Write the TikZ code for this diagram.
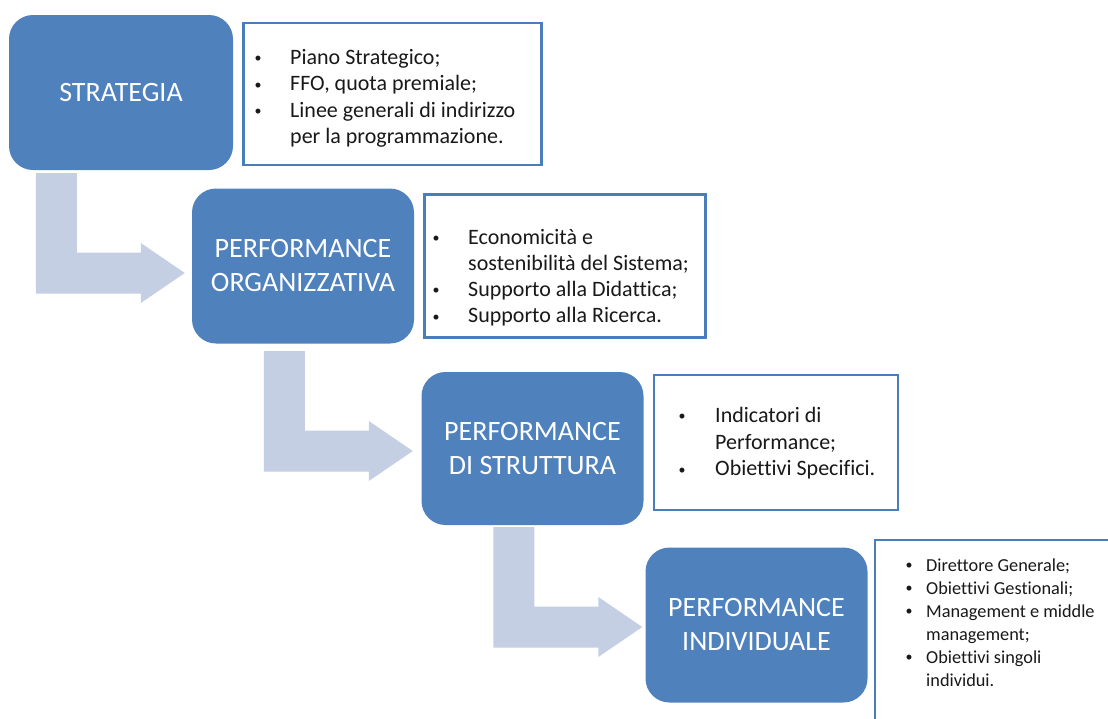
\documentclass[tikz,border=0pt]{standalone}
\usepackage{fontspec}
\setmainfont[Ligatures=NoCommon]{Carlito}
\usetikzlibrary{positioning}
\definecolor{stageblue}{RGB}{79,129,189}
\definecolor{frameblue}{RGB}{74,126,187}
\definecolor{arrowblue}{RGB}{197,207,227}
\tikzstyle{stagebox} = [rectangle, rounded corners=24pt, minimum width=222pt, minimum height=155pt, align=center, fill=stageblue, text=white, font=\fontsize{28}{34}\selectfont]
\tikzstyle{infobox} = [rectangle, draw=frameblue, line width=2.5pt, fill=white]
\tikzstyle{infotext} = [anchor=base west, inner sep=0pt, text=black!90, font=\fontsize{22}{26.3}\selectfont]
\tikzstyle{flowarrow} = [fill=arrowblue]

% small bullet hanging left of the item text
\newcommand{\bulitem}[2][32pt]{\llap{\makebox[0pt]{\raisebox{1.8pt}{\fontsize{14}{14}\selectfont\textbullet}}\hspace{#1}}#2}
% bent block arrow, tip at #1
\newcommand{\bentarrow}[1]{%
  \fill[flowarrow] (#1) -- ++(-44,-30) -- ++(0,9.5) -- ++(-64,0) -- ++(0,-79.5)
    -- ++(-41,0) -- ++(0,120.5) -- ++(105,0) -- ++(0,9.5) -- cycle;}

\begin{document}
\begin{tikzpicture}[x=1pt, y=-1pt]
\useasboundingbox (0,0) rectangle (1108,718);

% Stages
\node (strat) [stagebox, minimum width=224pt] at (121,92.5) {STRATEGIA};
\node (orgperf) [stagebox] at (303,266) {PERFORMANCE\\ORGANIZZATIVA};
\node (strperf) [stagebox, minimum height=153pt] at (532.5,448.5) {PERFORMANCE\\DI STRUTTURA};
\node (indperf) [stagebox] at (756.5,625) {PERFORMANCE\\INDIVIDUALE};

% Frames
\node (info1) [infobox, minimum width=298pt, minimum height=142pt, right=9pt of strat, yshift=-1.5pt] {};
\node (info2) [infobox, minimum width=281pt, minimum height=143pt, right=9pt of orgperf] {};
\node (info3) [infobox, minimum width=244pt, minimum height=135pt, right=9pt of strperf, yshift=6pt] {};
\node (info4) [infobox, minimum width=260pt, minimum height=192pt, right=6pt of indperf, yshift=-11pt] {};

% Lists
\node (list1) [infotext] at (290,64.5) {\begin{tabular}[t]{@{}l@{}}
  \bulitem{Piano Strategico;}\\
  \bulitem{FFO, quota premiale;}\\
  \bulitem{Linee generali di indirizzo}\\
  per la programmazione.
\end{tabular}};
\node (list2) [infotext] at (468,244) {\begin{tabular}[t]{@{}l@{}}
  \bulitem{Economicità e}\\
  sostenibilità del Sistema;\\
  \bulitem{Supporto alla Didattica;}\\
  \bulitem{Supporto alla Ricerca.}
\end{tabular}};
\node (list3) [infotext, font=\fontsize{22}{26.7}\selectfont] at (715,422.5) {\begin{tabular}[t]{@{}l@{}}
  \bulitem[33pt]{Indicatori di}\\
  Performance;\\
  \bulitem[33pt]{Obiettivi Specifici.}
\end{tabular}};
\node (list4) [infotext, font=\fontsize{18.3}{23}\selectfont] at (926,571) {\begin{tabular}[t]{@{}l@{}}
  \bulitem[17pt]{Direttore Generale;}\\
  \bulitem[17pt]{Obiettivi Gestionali;}\\
  \bulitem[17pt]{Management e middle}\\
  management;\\
  \bulitem[17pt]{Obiettivi singoli}\\
  individui.
\end{tabular}};

% Arrows
\bentarrow{[shift={(-7,7)}]orgperf.west}
\bentarrow{[shift={(-8.5,2.5)}]strperf.west}
\bentarrow{[shift={(-3,2)}]indperf.west}

\end{tikzpicture}
\end{document}
